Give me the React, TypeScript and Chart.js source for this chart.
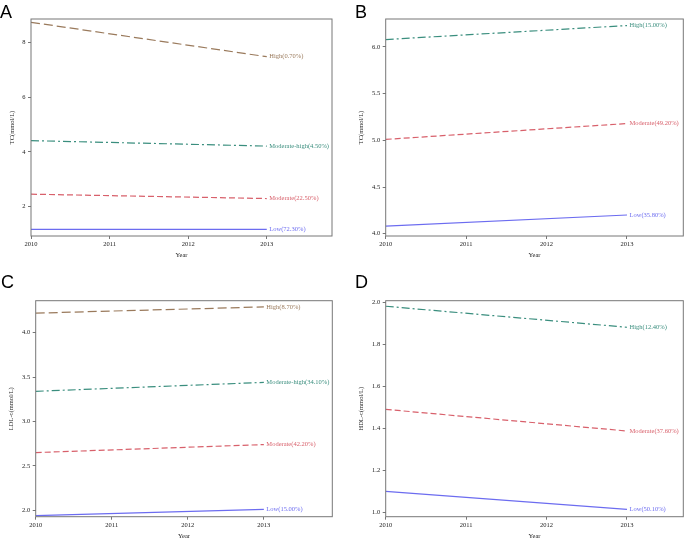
import React, { useEffect, useRef } from "react";
import { Chart, registerables } from "chart.js";

Chart.register(...registerables);

// ---------- data ----------
const years = [2010, 2013];
const xTicks = [2010, 2011, 2012, 2013];

// Panel A: TC
const aNames = ["High(0.70%)", "Moderate-high(4.50%)", "Moderate(22.50%)", "Low(72.30%)"];
const aHigh = [8.74, 7.48];
const aModHigh = [4.41, 4.21];
const aModerate = [2.45, 2.29];
const aLow = [1.165, 1.165];
const aTicks = [2, 4, 6, 8];

// Panel B: TC
const bNames = ["High(15.00%)", "Moderate(49.20%)", "Low(35.80%)"];
const bHigh = [6.08, 6.23];
const bModerate = [5.01, 5.18];
const bLow = [4.08, 4.2];
const bTicks = [4.0, 4.5, 5.0, 5.5, 6.0];

// Panel C: LDL-c
const cNames = ["High(8.70%)", "Moderate-high(34.10%)", "Moderate(42.20%)", "Low(15.00%)"];
const cHigh = [4.22, 4.29];
const cModHigh = [3.34, 3.44];
const cModerate = [2.65, 2.74];
const cLow = [1.94, 2.01];
const cTicks = [2.0, 2.5, 3.0, 3.5, 4.0];

// Panel D: HDL-c
const dNames = ["High(12.40%)", "Moderate(37.60%)", "Low(50.10%)"];
const dHigh = [1.983, 1.883];
const dModerate = [1.492, 1.389];
const dLow = [1.102, 1.016];
const dTicks = [1.0, 1.2, 1.4, 1.6, 1.8, 2.0];

// ---------- styles ----------
const STYLES: Record<string, { color: string; dash: number[] }> = {
  brown: { color: "#9A7A5C", dash: [9, 4] },
  teal: { color: "#3A8E7E", dash: [8, 3, 2, 3] },
  red: { color: "#D8606B", dash: [6, 3] },
  blue: { color: "#6C6CF0", dash: [] },
};

const FONT = "'Liberation Serif', 'Times New Roman', serif";
const FS = 6.5;
const LH = FS * 1.2;

type PanelCfg = {
  letter: string;
  box: { x: number; y: number; w: number; h: number };
  area: { left: number; top: number; right: number; bottom: number };
  yTitle: string;
  yTitleX: number;
  xMax: number;
  yMin: number;
  yMax: number;
  yTicks: number[];
  decimals: number;
  series: { name: string; values: number[]; style: string }[];
  letterPos: { left: number; top: number };
};

const panels: PanelCfg[] = [
  {
    letter: "A",
    box: { x: 0, y: 0, w: 340, h: 270 },
    area: { left: 31, top: 19, right: 332, bottom: 236 },
    yTitle: "TC(mmol/L)",
    yTitleX: 12,
    xMax: 2013.83,
    yMin: 0.92,
    yMax: 8.86,
    yTicks: aTicks,
    decimals: 0,
    series: [
      { name: aNames[0], values: aHigh, style: "brown" },
      { name: aNames[1], values: aModHigh, style: "teal" },
      { name: aNames[2], values: aModerate, style: "red" },
      { name: aNames[3], values: aLow, style: "blue" },
    ],
    letterPos: { left: 0, top: 3 },
  },
  {
    letter: "B",
    box: { x: 340, y: 0, w: 345, h: 270 },
    area: { left: 45.7, top: 19, right: 343.3, bottom: 236 },
    yTitle: "TC(mmol/L)",
    yTitleX: 21.7,
    xMax: 2013.7,
    yMin: 3.975,
    yMax: 6.3,
    yTicks: bTicks,
    decimals: 1,
    series: [
      { name: bNames[0], values: bHigh, style: "teal" },
      { name: bNames[1], values: bModerate, style: "red" },
      { name: bNames[2], values: bLow, style: "blue" },
    ],
    letterPos: { left: 355, top: 3 },
  },
  {
    letter: "C",
    box: { x: 0, y: 270, w: 340, h: 270 },
    area: { left: 35.7, top: 30.7, right: 332.3, bottom: 246.7 },
    yTitle: "LDL-c(mmol/L)",
    yTitleX: 11,
    xMax: 2013.9,
    yMin: 1.928,
    yMax: 4.36,
    yTicks: cTicks,
    decimals: 1,
    series: [
      { name: cNames[0], values: cHigh, style: "brown" },
      { name: cNames[1], values: cModHigh, style: "teal" },
      { name: cNames[2], values: cModerate, style: "red" },
      { name: cNames[3], values: cLow, style: "blue" },
    ],
    letterPos: { left: 1, top: 273 },
  },
  {
    letter: "D",
    box: { x: 340, y: 270, w: 345, h: 270 },
    area: { left: 45.7, top: 30.7, right: 343.3, bottom: 246.7 },
    yTitle: "HDL-c(mmol/L)",
    yTitleX: 21.7,
    xMax: 2013.7,
    yMin: 0.981,
    yMax: 2.0095,
    yTicks: dTicks,
    decimals: 1,
    series: [
      { name: dNames[0], values: dHigh, style: "teal" },
      { name: dNames[1], values: dModerate, style: "red" },
      { name: dNames[2], values: dLow, style: "blue" },
    ],
    letterPos: { left: 355, top: 273 },
  },
];

const framePlugin = {
  id: "frame",
  afterDraw(chart: any) {
    const { ctx, chartArea } = chart;
    ctx.save();
    ctx.strokeStyle = "#777";
    ctx.lineWidth = 1;
    ctx.strokeRect(chartArea.left, chartArea.top, chartArea.right - chartArea.left, chartArea.bottom - chartArea.top);
    ctx.restore();
  },
};

const endLabelPlugin = {
  id: "endLabels",
  afterDatasetsDraw(chart: any) {
    const { ctx } = chart;
    ctx.save();
    ctx.font = `${FS}px ${FONT}`;
    ctx.textAlign = "left";
    ctx.textBaseline = "middle";
    chart.data.datasets.forEach((ds: any, i: number) => {
      const meta = chart.getDatasetMeta(i);
      const pt = meta.data[meta.data.length - 1];
      if (!pt) return;
      ctx.fillStyle = ds.borderColor;
      ctx.fillText(ds.label, pt.x + 2.5, pt.y);
    });
    ctx.restore();
  },
};

function Panel({ cfg }: { cfg: PanelCfg }) {
  const ref = useRef<HTMLCanvasElement>(null);
  useEffect(() => {
    if (!ref.current) return;
    const { box, area } = cfg;
    const xTitlePad = Math.max(0, box.h - (area.bottom + 19.5) - LH / 2);
    const chart = new Chart(ref.current, {
      type: "line",
      data: {
        datasets: cfg.series.map((s) => ({
          label: s.name,
          data: years.map((yr, i) => ({ x: yr, y: s.values[i] })),
          borderColor: STYLES[s.style].color,
          borderDash: STYLES[s.style].dash,
          borderWidth: 1.2,
          pointRadius: 0,
          fill: false,
          tension: 0,
        })),
      },
      options: {
        animation: false,
        responsive: false,
        devicePixelRatio: 1,
        layout: { padding: { left: 0, top: area.top, right: box.w - area.right, bottom: 0 } },
        plugins: { legend: { display: false }, tooltip: { enabled: false }, title: { display: false } },
        scales: {
          x: {
            type: "linear",
            min: 2010,
            max: cfg.xMax,
            afterBuildTicks: (scale: any) => {
              scale.ticks = xTicks.map((v) => ({ value: v }));
            },
            afterFit: (scale: any) => {
              scale.height = box.h - area.bottom;
            },
            grid: { display: true, drawOnChartArea: false, drawTicks: true, tickLength: 3, color: "#777" },
            border: { display: false },
            ticks: {
              font: { family: FONT, size: FS },
              color: "#222",
              padding: 1.5,
              maxRotation: 0,
              autoSkip: false,
              callback: (v: any) => String(v),
            },
            title: {
              display: true,
              text: "Year",
              font: { family: FONT, size: FS },
              color: "#222",
              padding: { top: 0, bottom: xTitlePad },
            },
          },
          y: {
            type: "linear",
            min: cfg.yMin,
            max: cfg.yMax,
            afterBuildTicks: (scale: any) => {
              scale.ticks = cfg.yTicks.map((v) => ({ value: v }));
            },
            afterFit: (scale: any) => {
              scale.width = area.left;
            },
            grid: { display: true, drawOnChartArea: false, drawTicks: true, tickLength: 3, color: "#777" },
            border: { display: false },
            ticks: {
              font: { family: FONT, size: FS },
              color: "#222",
              padding: 2.5,
              autoSkip: false,
              callback: (v: any) => Number(v).toFixed(cfg.decimals),
            },
            title: {
              display: true,
              text: cfg.yTitle,
              font: { family: FONT, size: FS },
              color: "#222",
              padding: { top: cfg.yTitleX - LH / 2, bottom: 0 },
            },
          },
        },
      },
      plugins: [framePlugin, endLabelPlugin],
    } as any);
    return () => chart.destroy();
  }, [cfg]);
  return (
    <canvas
      ref={ref}
      width={cfg.box.w}
      height={cfg.box.h}
      style={{ position: "absolute", left: cfg.box.x, top: cfg.box.y, width: cfg.box.w, height: cfg.box.h }}
    />
  );
}

export default function App() {
  return (
    <div
      style={{
        position: "fixed",
        left: 0,
        top: 0,
        width: 685,
        height: 540,
        background: "#fff",
        overflow: "hidden",
      }}
    >
      {panels.map((p) => (
        <Panel key={p.letter} cfg={p} />
      ))}
      {panels.map((p) => (
        <div
          key={"l" + p.letter}
          style={{
            position: "absolute",
            left: p.letterPos.left,
            top: p.letterPos.top,
            fontFamily: "'Liberation Sans', Arial, sans-serif",
            fontSize: 18,
            lineHeight: "18px",
            color: "#000",
          }}
        >
          {p.letter}
        </div>
      ))}
    </div>
  );
}
